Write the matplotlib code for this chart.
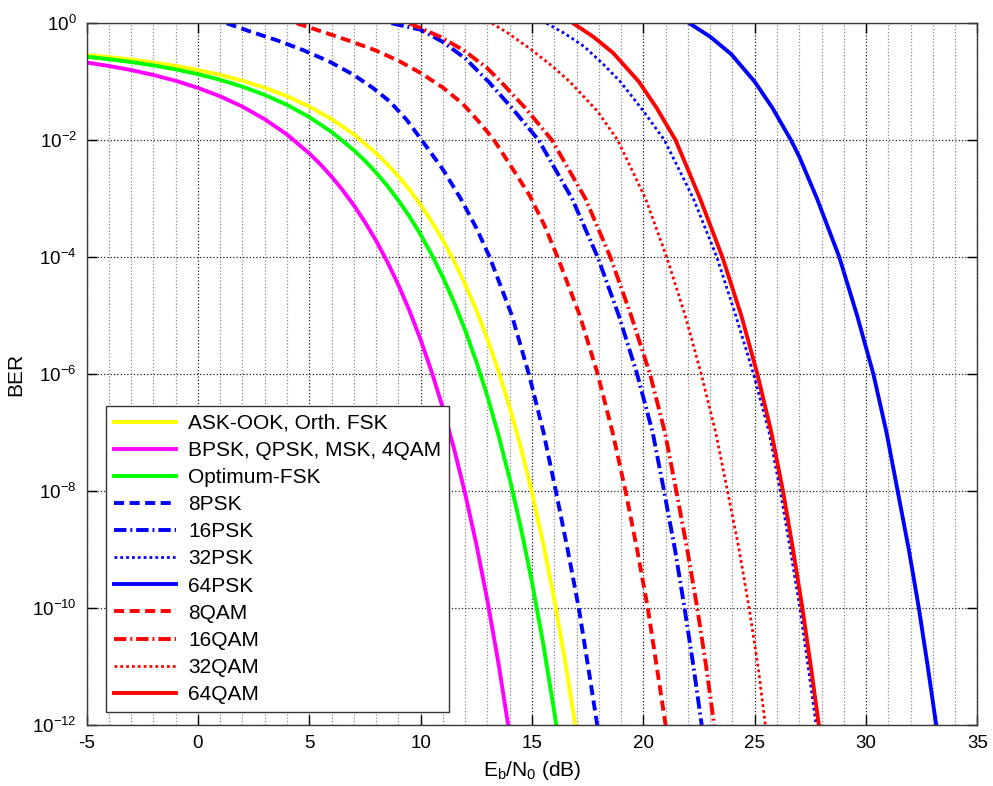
import matplotlib
matplotlib.use('Agg')
import matplotlib.pyplot as plt
from matplotlib.ticker import MultipleLocator, NullLocator

plt.rcParams['font.family'] = ['Liberation Sans', 'DejaVu Sans']
plt.rcParams['mathtext.fontset'] = 'custom'
plt.rcParams['mathtext.rm'] = 'Liberation Sans'
plt.rcParams['mathtext.it'] = 'Liberation Sans:italic'
plt.rcParams['mathtext.default'] = 'regular'
plt.rcParams['axes.unicode_minus'] = False

# ---------------- data (Eb/N0 in dB, BER as log10 exponent) ----------------
eb_ook = [-5, -4, -3, -2, -1, 0, 1, 2, 3, 4, 5, 6, 7, 8, 8.5, 9, 9.5, 10, 10.5, 11, 11.5,
          12, 12.5, 13, 13.5, 14, 14.5, 15, 15.5, 16, 16.5, 17]
exp_ook = [-0.542, -0.578, -0.621, -0.671, -0.729, -0.799, -0.883, -0.983, -1.103, -1.248,
           -1.424, -1.638, -1.900, -2.222, -2.409, -2.616, -2.848, -3.106, -3.394, -3.712,
           -4.067, -4.465, -4.907, -5.401, -5.956, -6.570, -7.259, -8.027, -8.890, -9.854,
           -10.935, -12.14]

eb_bpsk = [-5, -4, -3, -2, -1, 0, 1, 2, 3, 4, 5, 5.5, 6, 6.5, 7, 7.5, 8, 8.5, 9, 9.5, 10,
           10.5, 11, 11.5, 12, 12.5, 13, 13.5, 14]
exp_bpsk = [-0.671, -0.730, -0.800, -0.884, -0.984, -1.105, -1.249, -1.426, -1.641, -1.903,
            -2.225, -2.413, -2.622, -2.855, -3.112, -3.400, -3.719, -4.076, -4.474, -4.917,
            -5.412, -5.967, -6.583, -7.275, -8.046, -8.908, -9.876, -10.957, -12.17]

eb_ofsk = [-5, -4, -3, -2, -1, 0, 1, 2, 3, 4, 5, 6, 7, 7.5, 8, 8.5, 9, 9.5, 10, 10.5, 11,
           11.5, 12, 12.5, 13, 13.5, 14, 14.5, 15, 15.5, 16, 16.5]
exp_ofsk = [-0.5725, -0.614, -0.663, -0.720, -0.788, -0.870, -0.967, -1.084, -1.225, -1.396,
            -1.604, -1.858, -2.170, -2.352, -2.554, -2.778, -3.028, -3.305, -3.615, -3.959,
            -4.343, -4.772, -5.250, -5.786, -6.381, -7.050, -7.793, -8.628, -9.558, -10.603,
            -11.77, -13.07]

eb_8psk = [1.29, 2.34, 3.54, 4.73, 5.93, 6.98, 7.87, 8.62, 9.37, 10.05, 11.0, 11.8, 12.5,
           13.1, 14.1, 14.86, 15.52, 16.07, 16.6, 17.1, 17.52, 17.93]
exp_8psk = [0, -0.14, -0.29, -0.46, -0.66, -0.88, -1.11, -1.34, -1.65, -2.0, -2.5, -3.0, -3.5,
            -4.0, -5.0, -6.0, -7.0, -8.0, -9.0, -10.0, -11.0, -12.0]

eb_16psk = [8.69, 10.0, 11.0, 12.0, 13.05, 14.1, 15.3, 16.8, 17.95, 18.9, 19.72, 20.42, 20.93,
            21.42, 21.85, 22.25, 22.62]
exp_16psk = [0, -0.11, -0.32, -0.6, -1.0, -1.45, -2.0, -3.0, -4.0, -5.0, -6.0, -7.0, -8.0,
             -9.0, -10.0, -11.0, -12.0]

eb_32psk = [15.65, 16.45, 17.35, 18.2, 18.97, 20.0, 20.95, 22.25, 23.3, 24.15, 24.95, 25.65,
            26.15, 26.6, 27.03, 27.4, 27.76]
exp_32psk = [0, -0.17, -0.4, -0.7, -1.0, -1.5, -2.0, -3.0, -4.0, -5.0, -6.0, -7.0, -8.0,
             -9.0, -10.0, -11.0, -12.0]

eb_64psk = [22.07, 23.0, 23.95, 25.0, 25.8, 26.63, 27.0, 27.8, 28.8, 29.6, 30.33, 30.92,
            31.42, 31.92, 32.37, 32.77, 33.15]
exp_64psk = [0, -0.23, -0.53, -1.0, -1.45, -2.0, -2.28, -3.0, -4.0, -5.0, -6.0, -7.0, -8.0,
             -9.0, -10.0, -11.0, -12.0]

eb_8qam = [4.43, 5.55, 6.8, 7.95, 9.0, 10.0, 11.0, 11.9, 12.7, 13.3, 14.15, 14.9, 15.55,
           16.15, 17.15, 17.95, 18.62, 19.2, 19.72, 20.2, 20.6, 21.0]
exp_8qam = [0, -0.14, -0.3, -0.46, -0.64, -0.85, -1.1, -1.38, -1.72, -2.0, -2.5, -2.95, -3.45,
            -4.0, -5.0, -6.0, -7.0, -8.0, -9.0, -10.0, -11.0, -12.0]

eb_16qam = [9.5, 10.87, 11.92, 12.97, 13.6, 14.7, 15.9, 17.4, 18.52, 19.45, 20.3, 20.97,
            21.48, 21.97, 22.42, 22.82, 23.18]
exp_16qam = [0, -0.23, -0.46, -0.76, -1.0, -1.45, -2.0, -3.0, -4.0, -5.0, -6.0, -7.0, -8.0,
             -9.0, -10.0, -11.0, -12.0]

eb_32qam = [13.2, 13.93, 15.0, 15.93, 16.7, 17.93, 18.85, 20.1, 21.05, 21.88, 22.6, 23.25,
            23.78, 24.3, 24.75, 25.15, 25.48]
exp_32qam = [0, -0.17, -0.46, -0.74, -1.0, -1.5, -2.0, -3.0, -4.0, -5.0, -6.0, -7.0, -8.0,
             -9.0, -10.0, -11.0, -12.0]

eb_64qam = [16.85, 17.75, 18.65, 19.8, 20.6, 21.45, 22.55, 23.55, 24.4, 25.12, 25.75, 26.27,
            26.72, 27.14, 27.52, 27.88]
exp_64qam = [0, -0.23, -0.51, -1.0, -1.45, -2.0, -3.0, -4.0, -5.0, -6.0, -7.0, -8.0, -9.0,
             -10.0, -11.0, -12.0]

labels = ['ASK-OOK, Orth. FSK', 'BPSK, QPSK, MSK, 4QAM', 'Optimum-FSK', '8PSK', '16PSK',
          '32PSK', '64PSK', '8QAM', '16QAM', '32QAM', '64QAM']
x_tick_vals = [-5, 0, 5, 10, 15, 20, 25, 30, 35]
y_tick_exps = [-12, -10, -8, -6, -4, -2, 0]

# ---------------- styles ----------------
DASH = (0, (2.6, 1.4))
DASHDOT = (0, (3.2, 1.0, 0.5, 1.0))
DOT = (0, (1.0, 1.1))
series = [
    (eb_ook, exp_ook, '#FFFF00', '-', 2.8),
    (eb_bpsk, exp_bpsk, '#FF00FF', '-', 2.8),
    (eb_ofsk, exp_ofsk, '#00FF00', '-', 2.8),
    (eb_8psk, exp_8psk, '#0000FF', DASH, 2.8),
    (eb_16psk, exp_16psk, '#0000FF', DASHDOT, 2.8),
    (eb_32psk, exp_32psk, '#0000FF', DOT, 2.0),
    (eb_64psk, exp_64psk, '#0000FF', '-', 2.8),
    (eb_8qam, exp_8qam, '#FF0000', DASH, 2.8),
    (eb_16qam, exp_16qam, '#FF0000', DASHDOT, 2.8),
    (eb_32qam, exp_32qam, '#FF0000', DOT, 2.0),
    (eb_64qam, exp_64qam, '#FF0000', '-', 2.8),
]

fig = plt.figure(figsize=(9.93, 7.86), dpi=100)
ax = fig.add_axes([0.0872, 0.0776, 0.8971, 0.8928])

for (xs, es, col, ls, lw), lab in zip(series, labels):
    ax.plot(xs, [10.0 ** e for e in es], color=col, linestyle=ls, linewidth=lw, label=lab)

ax.set_yscale('log')
ax.set_xlim(-5, 35)
ax.set_ylim(1e-12, 1)
ax.set_xticks(x_tick_vals)
ax.set_xticklabels([str(v) for v in x_tick_vals])
ax.xaxis.set_minor_locator(MultipleLocator(1))
ax.set_yticks([10.0 ** e for e in y_tick_exps])
ax.set_yticklabels([r'$10^{%d}$' % e for e in y_tick_exps])
ax.yaxis.set_minor_locator(NullLocator())

ax.set_axisbelow(True)
ax.grid(which='major', axis='both', linestyle=':', color='#202020', linewidth=0.9)
ax.grid(which='minor', axis='x', linestyle=':', color='#8a8a8a', linewidth=0.9)
ax.tick_params(which='major', direction='in', length=7, width=1.0, top=True, right=True,
               labelsize=13.5, pad=7, colors='#000000')
ax.tick_params(which='minor', length=0)
for sp in ax.spines.values():
    sp.set_color('#3a3a3a')
    sp.set_linewidth(1.0)

ax.set_xlabel(r'E$_{b}$/N$_{0}$ (dB)', fontsize=15, labelpad=5)
ax.set_ylabel('BER', fontsize=15, labelpad=5)

leg = ax.legend(loc='lower left', bbox_to_anchor=(0.0218, 0.0185), borderaxespad=0,
                fontsize=15, frameon=True, fancybox=False, edgecolor='#333333',
                framealpha=1, handlelength=3.0, handletextpad=0.55, labelspacing=0.39,
                borderpad=0.38)
leg.get_frame().set_linewidth(1.0)

fig.savefig('out.png', dpi=100)
